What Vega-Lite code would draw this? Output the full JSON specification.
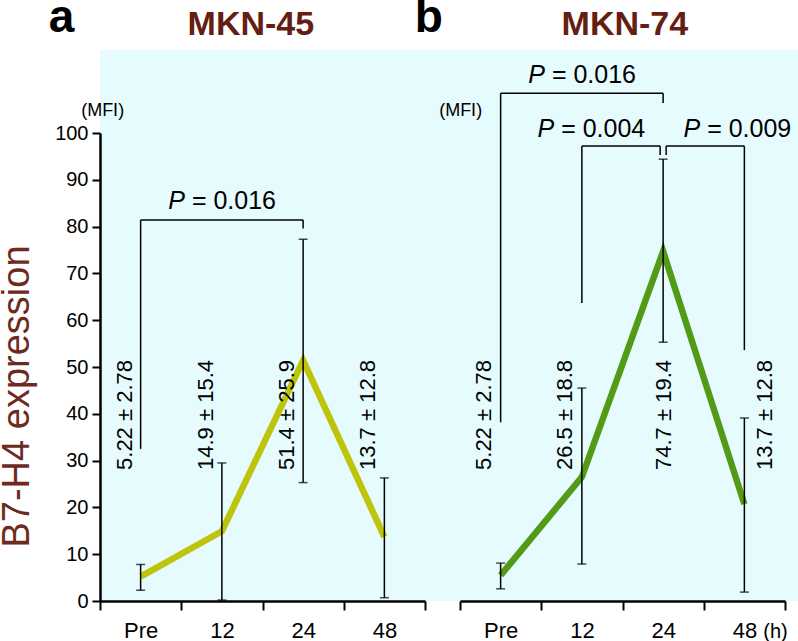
{
  "$schema": "https://vega.github.io/schema/vega-lite/v6.json",
  "width": 698,
  "height": 551,
  "autosize": {"type": "none"},
  "padding": {"left": 100, "top": 50, "right": 0, "bottom": 40},
  "background": "#ffffff",
  "config": {"view": {"fill": "#e6fbfd", "stroke": null}, "font": "Liberation Sans"},
  "datasets": {
    "a_pts": [
      {"time": "Pre", "v": 5.22, "lo": 2.3, "hi": 7.8, "label": "5.22 ± 2.78"},
      {"time": "12", "v": 14.9, "lo": 0.2, "hi": 29.5, "label": "14.9 ± 15.4"},
      {"time": "24", "v": 51.4, "lo": 25.3, "hi": 77.3, "label": "51.4 ± 25.9"},
      {"time": "48", "v": 13.7, "lo": 0.7, "hi": 26.3, "label": "13.7 ± 12.8"}
    ],
    "b_pts": [
      {"time": "Pre", "v": 5.5, "lo": 2.6, "hi": 8.1, "label": "5.22 ± 2.78"},
      {"time": "12", "v": 26.5, "lo": 7.9, "hi": 45.5, "label": "26.5 ± 18.8"},
      {"time": "24", "v": 74.7, "lo": 55.3, "hi": 94.4, "label": "74.7 ± 19.4"},
      {"time": "48", "v": 20.7, "lo": 1.9, "hi": 39.1, "label": "13.7 ± 12.8"}
    ],
    "a_br": [{"time": "Pre", "to": "24", "v": 81.4}],
    "a_legs": [
      {"time": "Pre", "v": 81.4, "v2": 32.5},
      {"time": "24", "v": 81.4, "v2": 79.6}
    ],
    "b_br": [
      {"id": "b1", "time": "Pre", "to": "24", "v": 108.5},
      {"id": "b2", "time": "12", "to": "24", "v": 97.2},
      {"id": "b3", "time": "24", "to": "48", "v": 97.2}
    ],
    "b_legs": [
      {"id": "b1", "time": "Pre", "v": 108.5, "v2": 38.2},
      {"id": "b1", "time": "24", "v": 108.5, "v2": 106.4},
      {"id": "b2", "time": "12", "v": 97.2, "v2": 63.7},
      {"id": "b2", "time": "24", "v": 97.2, "v2": 95.3},
      {"id": "b3", "time": "24", "v": 97.2, "v2": 95.3},
      {"id": "b3", "time": "48", "v": 97.2, "v2": 53.6}
    ],
    "a_p": [{"time": "12", "v": 83.8, "p": "P", "rest": "= 0.016"}],
    "b_p": [
      {"id": "b1", "time": "12", "v": 110.7, "p": "P", "rest": "= 0.016"},
      {"id": "b2", "time": "24", "v": 99.1, "p": "P", "rest": "= 0.004"},
      {"id": "b3", "time": "24", "v": 99.1, "p": "P", "rest": "= 0.009"}
    ],
    "a_head": [{"time": "Pre", "v": 121.6, "t": "a"}, {"time": "12", "v": 121.0, "t": "MKN-45"}],
    "b_head": [{"time": "Pre", "v": 121.6, "t": "b"}, {"time": "12", "v": 120.9, "t": "MKN-74"}],
    "a_unit": [{"time": "Pre", "v": 104.7, "t": "(MFI)"}],
    "b_unit": [{"time": "Pre", "v": 104.7, "t": "(MFI)"}]
  },
  "layer": [
    {
      "encoding": {
        "x": {
          "field": "time", "type": "ordinal", "sort": ["Pre", "12", "24", "48"],
          "scale": {"type": "band", "domain": ["Pre", "12", "24", "48"], "range": [0, 325], "paddingInner": 0, "paddingOuter": 0},
          "axis": {"orient": "bottom", "title": null, "grid": false, "domainColor": "#000", "domainWidth": 2.5, "tickColor": "#000", "tickWidth": 2, "tickSize": 9, "tickBand": "extent", "labelFontSize": 22, "labelColor": "#000", "labelPadding": 10, "labelAngle": 0}
        },
        "y": {
          "field": "v", "type": "quantitative",
          "scale": {"domain": [0, 100], "range": [551, 83], "nice": false, "zero": false},
          "axis": {"orient": "left", "values": [0, 10, 20, 30, 40, 50, 60, 70, 80, 90, 100], "grid": false, "domainColor": "#000", "domainWidth": 2.5, "tickColor": "#000", "tickWidth": 2, "tickSize": 8, "labelFontSize": 20, "labelColor": "#000", "labelPadding": 4, "title": "B7-H4 expression", "titleX": -83, "titleY": 346, "titleAngle": 270, "titleAlign": "center", "titleBaseline": "middle", "titleFontSize": 38, "titleFontWeight": "normal", "titleColor": "#6e2a1e"}
        }
      },
      "layer": [
        {"data": {"name": "a_pts"}, "mark": {"type": "line", "color": "#bec40c", "strokeWidth": 6.5}},
        {"data": {"name": "a_pts"}, "mark": {"type": "rule", "color": "#000", "strokeWidth": 1.5},
         "encoding": {"y": {"field": "lo", "type": "quantitative", "scale": {"domain": [0, 100], "range": [551, 83], "nice": false, "zero": false}, "axis": {"orient": "left", "values": [0, 10, 20, 30, 40, 50, 60, 70, 80, 90, 100], "grid": false, "domainColor": "#000", "domainWidth": 2.5, "tickColor": "#000", "tickWidth": 2, "tickSize": 8, "labelFontSize": 20, "labelColor": "#000", "labelPadding": 4, "title": "B7-H4 expression", "titleX": -83, "titleY": 346, "titleAngle": 270, "titleAlign": "center", "titleBaseline": "middle", "titleFontSize": 38, "titleFontWeight": "normal", "titleColor": "#6e2a1e"}}, "y2": {"field": "hi"}}},
        {"data": {"name": "a_pts"}, "mark": {"type": "tick", "color": "#000", "size": 9, "thickness": 1.5},
         "encoding": {"y": {"field": "lo", "type": "quantitative", "scale": {"domain": [0, 100], "range": [551, 83], "nice": false, "zero": false}, "axis": {"orient": "left", "values": [0, 10, 20, 30, 40, 50, 60, 70, 80, 90, 100], "grid": false, "domainColor": "#000", "domainWidth": 2.5, "tickColor": "#000", "tickWidth": 2, "tickSize": 8, "labelFontSize": 20, "labelColor": "#000", "labelPadding": 4, "title": "B7-H4 expression", "titleX": -83, "titleY": 346, "titleAngle": 270, "titleAlign": "center", "titleBaseline": "middle", "titleFontSize": 38, "titleFontWeight": "normal", "titleColor": "#6e2a1e"}}}},
        {"data": {"name": "a_pts"}, "mark": {"type": "tick", "color": "#000", "size": 9, "thickness": 1.5},
         "encoding": {"y": {"field": "hi", "type": "quantitative", "scale": {"domain": [0, 100], "range": [551, 83], "nice": false, "zero": false}, "axis": {"orient": "left", "values": [0, 10, 20, 30, 40, 50, 60, 70, 80, 90, 100], "grid": false, "domainColor": "#000", "domainWidth": 2.5, "tickColor": "#000", "tickWidth": 2, "tickSize": 8, "labelFontSize": 20, "labelColor": "#000", "labelPadding": 4, "title": "B7-H4 expression", "titleX": -83, "titleY": 346, "titleAngle": 270, "titleAlign": "center", "titleBaseline": "middle", "titleFontSize": 38, "titleFontWeight": "normal", "titleColor": "#6e2a1e"}}}},
        {"data": {"name": "a_br"}, "mark": {"type": "rule", "color": "#000", "strokeWidth": 1.5}, "encoding": {"x2": {"field": "to"}}},
        {"data": {"name": "a_legs"}, "mark": {"type": "rule", "color": "#000", "strokeWidth": 1.5}, "encoding": {"y2": {"field": "v2"}}},
        {"data": {"name": "a_pts"}, "mark": {"type": "text", "angle": 270, "align": "left", "baseline": "middle", "dy": -16, "fontSize": 22, "color": "#000"},
         "encoding": {"y": {"datum": 28, "type": "quantitative", "scale": {"domain": [0, 100], "range": [551, 83], "nice": false, "zero": false}, "axis": {"orient": "left", "values": [0, 10, 20, 30, 40, 50, 60, 70, 80, 90, 100], "grid": false, "domainColor": "#000", "domainWidth": 2.5, "tickColor": "#000", "tickWidth": 2, "tickSize": 8, "labelFontSize": 20, "labelColor": "#000", "labelPadding": 4, "title": "B7-H4 expression", "titleX": -83, "titleY": 346, "titleAngle": 270, "titleAlign": "center", "titleBaseline": "middle", "titleFontSize": 38, "titleFontWeight": "normal", "titleColor": "#6e2a1e"}}, "text": {"field": "label"}}},
        {"data": {"name": "a_p"}, "mark": {"type": "text", "align": "right", "baseline": "alphabetic", "dx": -37, "fontSize": 25, "fontStyle": "italic", "color": "#000"}, "encoding": {"text": {"field": "p"}}},
        {"data": {"name": "a_p"}, "mark": {"type": "text", "align": "left", "baseline": "alphabetic", "dx": -30, "fontSize": 25, "color": "#000"}, "encoding": {"text": {"field": "rest"}}},
        {"data": {"name": "a_unit"}, "mark": {"type": "text", "align": "center", "baseline": "middle", "dx": -38, "fontSize": 18, "color": "#000"}, "encoding": {"text": {"field": "t"}}},
        {"data": {"name": "a_head"}, "transform": [{"filter": "datum.t == 'a'"}], "mark": {"type": "text", "align": "left", "baseline": "alphabetic", "dx": -92, "fontSize": 46, "fontWeight": "bold", "color": "#000"}, "encoding": {"text": {"field": "t"}}},
        {"data": {"name": "a_head"}, "transform": [{"filter": "datum.t != 'a'"}], "mark": {"type": "text", "align": "center", "baseline": "alphabetic", "dx": 29, "fontSize": 34, "fontWeight": "bold", "color": "#641e12"}, "encoding": {"text": {"field": "t"}}}
      ]
    },
    {
      "encoding": {
        "x": {
          "field": "time", "type": "ordinal", "sort": ["Pre", "12", "24", "48"],
          "scale": {"type": "band", "domain": ["Pre", "12", "24", "48"], "range": [360, 685], "paddingInner": 0, "paddingOuter": 0},
          "axis": {"orient": "bottom", "grid": false, "domainColor": "#000", "domainWidth": 2.5, "tickColor": "#000", "tickWidth": 2, "tickSize": 9, "tickBand": "extent", "labelFontSize": 22, "labelColor": "#000", "labelPadding": 10, "labelAngle": 0, "title": "(h)", "titleX": 675, "titleY": 36, "titleAngle": 0, "titleAlign": "center", "titleBaseline": "alphabetic", "titleFontSize": 20, "titleFontWeight": "normal", "titleColor": "#000"}
        },
        "y": {
          "field": "v", "type": "quantitative",
          "scale": {"domain": [0, 100], "range": [551, 83], "nice": false, "zero": false},
          "axis": {"orient": "left", "offset": -360, "tickCount": 11, "grid": false, "domainColor": "#000", "domainWidth": 2.5, "tickColor": "#000", "tickWidth": 2, "tickSize": 8, "labelFontSize": 20, "labelColor": "#000", "labelPadding": 4, "title": null}
        }
      },
      "layer": [
        {"data": {"name": "b_pts"}, "mark": {"type": "line", "color": "#539b16", "strokeWidth": 6.5}},
        {"data": {"name": "b_pts"}, "mark": {"type": "rule", "color": "#000", "strokeWidth": 1.5},
         "encoding": {"y": {"field": "lo", "type": "quantitative", "scale": {"domain": [0, 100], "range": [551, 83], "nice": false, "zero": false}, "axis": null}, "y2": {"field": "hi"}}},
        {"data": {"name": "b_pts"}, "mark": {"type": "tick", "color": "#000", "size": 9, "thickness": 1.5},
         "encoding": {"y": {"field": "lo", "type": "quantitative", "scale": {"domain": [0, 100], "range": [551, 83], "nice": false, "zero": false}, "axis": null}}},
        {"data": {"name": "b_pts"}, "mark": {"type": "tick", "color": "#000", "size": 9, "thickness": 1.5},
         "encoding": {"y": {"field": "hi", "type": "quantitative", "scale": {"domain": [0, 100], "range": [551, 83], "nice": false, "zero": false}, "axis": null}}},
        {"data": {"name": "b_br"}, "transform": [{"filter": "datum.id == 'b1'"}], "mark": {"type": "rule", "color": "#000", "strokeWidth": 1.5}, "encoding": {"x2": {"field": "to"}}},
        {"data": {"name": "b_br"}, "transform": [{"filter": "datum.id == 'b2'"}], "mark": {"type": "rule", "color": "#000", "strokeWidth": 1.5, "x2Offset": -3}, "encoding": {"x2": {"field": "to"}}},
        {"data": {"name": "b_br"}, "transform": [{"filter": "datum.id == 'b3'"}], "mark": {"type": "rule", "color": "#000", "strokeWidth": 1.5, "xOffset": 3}, "encoding": {"x2": {"field": "to"}}},
        {"data": {"name": "b_legs"}, "transform": [{"filter": "!(datum.time == '24' && datum.id != 'b1')"}], "mark": {"type": "rule", "color": "#000", "strokeWidth": 1.5}, "encoding": {"y2": {"field": "v2"}}},
        {"data": {"name": "b_legs"}, "transform": [{"filter": "datum.time == '24' && datum.id == 'b2'"}], "mark": {"type": "rule", "color": "#000", "strokeWidth": 1.5, "xOffset": -3}, "encoding": {"y2": {"field": "v2"}}},
        {"data": {"name": "b_legs"}, "transform": [{"filter": "datum.time == '24' && datum.id == 'b3'"}], "mark": {"type": "rule", "color": "#000", "strokeWidth": 1.5, "xOffset": 3}, "encoding": {"y2": {"field": "v2"}}},
        {"data": {"name": "b_pts"}, "transform": [{"filter": "datum.time == 'Pre' || datum.time == '12'"}], "mark": {"type": "text", "angle": 270, "align": "left", "baseline": "middle", "dy": -16.5, "fontSize": 22, "color": "#000"},
         "encoding": {"y": {"datum": 28, "type": "quantitative", "scale": {"domain": [0, 100], "range": [551, 83], "nice": false, "zero": false}, "axis": null}, "text": {"field": "label"}}},
        {"data": {"name": "b_pts"}, "transform": [{"filter": "datum.time == '24'"}], "mark": {"type": "text", "angle": 270, "align": "left", "baseline": "middle", "dy": 1, "fontSize": 22, "color": "#000"},
         "encoding": {"y": {"datum": 28, "type": "quantitative", "scale": {"domain": [0, 100], "range": [551, 83], "nice": false, "zero": false}, "axis": null}, "text": {"field": "label"}}},
        {"data": {"name": "b_pts"}, "transform": [{"filter": "datum.time == '48'"}], "mark": {"type": "text", "angle": 270, "align": "left", "baseline": "middle", "dy": 21, "fontSize": 22, "color": "#000"},
         "encoding": {"y": {"datum": 28, "type": "quantitative", "scale": {"domain": [0, 100], "range": [551, 83], "nice": false, "zero": false}, "axis": null}, "text": {"field": "label"}}},
        {"data": {"name": "b_p"}, "transform": [{"filter": "datum.id == 'b1'"}], "mark": {"type": "text", "align": "right", "baseline": "alphabetic", "dx": -37, "fontSize": 25, "fontStyle": "italic", "color": "#000"}, "encoding": {"text": {"field": "p"}}},
        {"data": {"name": "b_p"}, "transform": [{"filter": "datum.id == 'b1'"}], "mark": {"type": "text", "align": "left", "baseline": "alphabetic", "dx": -30, "fontSize": 25, "color": "#000"}, "encoding": {"text": {"field": "rest"}}},
        {"data": {"name": "b_p"}, "transform": [{"filter": "datum.id == 'b2'"}], "mark": {"type": "text", "align": "right", "baseline": "alphabetic", "dx": -109, "fontSize": 25, "fontStyle": "italic", "color": "#000"}, "encoding": {"text": {"field": "p"}}},
        {"data": {"name": "b_p"}, "transform": [{"filter": "datum.id == 'b2'"}], "mark": {"type": "text", "align": "left", "baseline": "alphabetic", "dx": -102, "fontSize": 25, "color": "#000"}, "encoding": {"text": {"field": "rest"}}},
        {"data": {"name": "b_p"}, "transform": [{"filter": "datum.id == 'b3'"}], "mark": {"type": "text", "align": "right", "baseline": "alphabetic", "dx": 37, "fontSize": 25, "fontStyle": "italic", "color": "#000"}, "encoding": {"text": {"field": "p"}}},
        {"data": {"name": "b_p"}, "transform": [{"filter": "datum.id == 'b3'"}], "mark": {"type": "text", "align": "left", "baseline": "alphabetic", "dx": 44, "fontSize": 25, "color": "#000"}, "encoding": {"text": {"field": "rest"}}},
        {"data": {"name": "b_unit"}, "mark": {"type": "text", "align": "center", "baseline": "middle", "dx": -40, "fontSize": 18, "color": "#000"}, "encoding": {"text": {"field": "t"}}},
        {"data": {"name": "b_head"}, "transform": [{"filter": "datum.t == 'b'"}], "mark": {"type": "text", "align": "left", "baseline": "alphabetic", "dx": -86, "fontSize": 46, "fontWeight": "bold", "color": "#000"}, "encoding": {"text": {"field": "t"}}},
        {"data": {"name": "b_head"}, "transform": [{"filter": "datum.t != 'b'"}], "mark": {"type": "text", "align": "center", "baseline": "alphabetic", "dx": 43, "fontSize": 34, "fontWeight": "bold", "color": "#641e12"}, "encoding": {"text": {"field": "t"}}}
      ]
    }
  ],
  "resolve": {"scale": {"x": "independent", "y": "independent"}, "axis": {"x": "independent", "y": "independent"}}
}
